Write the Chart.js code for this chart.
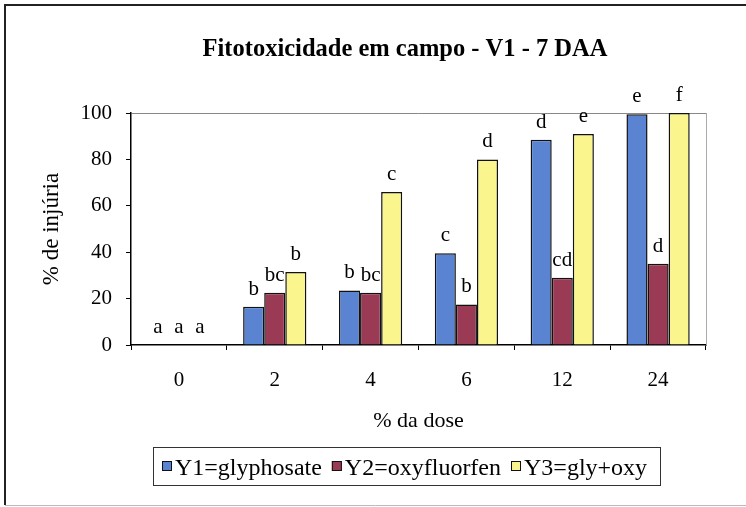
<!DOCTYPE html>
<html><head><meta charset="utf-8">
<script src="https://cdn.jsdelivr.net/npm/chart.js@4"></script>
<style>html,body{margin:0;padding:0;background:#fff}</style>
</head><body><canvas id="c" width="746" height="507"></canvas>
<script>
const categories = ['0','2','4','6','12','24'];
const glyphosate = [0,16.5,23.5,39.5,88.5,99.5];
const oxyfluorfen = [0,22.5,22.5,17.5,29,35];
const glyOxy = [0,31.5,66,80,91,100];
const lettersGly = ['a','b','b','c','d','e'];
const lettersOxy = ['a','bc','bc','b','cd','d'];
const lettersMix = ['a','b','c','d','e','f'];
const yTicks = [0,20,40,60,80,100];
const seriesNames = ['Y1=glyphosate','Y2=oxyfluorfen','Y3=gly+oxy'];
const seriesColors = ['#5a84d2','#9a3a55','#fbf58e'];
const chartTitle = 'Fitotoxicidade em campo - V1 - 7 DAA';

const serif = '"Liberation Serif", "Times New Roman", serif';
Chart.defaults.font.family = serif;

const decor = {
  id:'decor',
  afterDatasetsDraw(chart){
    const ctx = chart.ctx, a = chart.chartArea;
    ctx.save();
    ctx.font = '21px ' + serif;
    ctx.fillStyle = '#000';
    ctx.textAlign = 'center';
    ctx.textBaseline = 'alphabetic';
    chart.data.datasets.forEach((ds,i)=>{
      const meta = chart.getDatasetMeta(i);
      meta.data.forEach((bar,j)=>{
        ctx.fillText(ds.letters[j], bar.x, bar.y - 12);
      });
    });
    ctx.strokeStyle = '#aaa';
    ctx.lineWidth = 1;
    ctx.beginPath();
    ctx.moveTo(a.right+0.5, a.top);
    ctx.lineTo(a.right+0.5, a.bottom);
    ctx.stroke();
    ctx.restore();
  },
  afterDraw(chart){
    const ctx = chart.ctx;
    ctx.save();
    // outer frame (top and left dark, bottom light, no right edge)
    ctx.strokeStyle = '#222';
    ctx.lineWidth = 2;
    ctx.beginPath();
    ctx.moveTo(5, 505); ctx.lineTo(5, 5); ctx.lineTo(746, 5);
    ctx.stroke();
    ctx.strokeStyle = '#bbb';
    ctx.lineWidth = 1;
    ctx.beginPath();
    ctx.moveTo(5, 505.5); ctx.lineTo(746, 505.5);
    ctx.stroke();
    // title
    ctx.fillStyle = '#000';
    ctx.font = 'bold 24.5px ' + serif;
    ctx.textAlign = 'center';
    ctx.textBaseline = 'middle';
    ctx.fillText(chartTitle, 405, 50);
    // legend
    ctx.font = '24px ' + serif;
    ctx.textAlign = 'left';
    ctx.textBaseline = 'alphabetic';
    const box = 10, gap = 3, sep = 10;
    const ws = seriesNames.map(s=>ctx.measureText(s).width);
    const total = ws.reduce((s,w)=>s+box+gap+w,0) + sep*(ws.length-1);
    let x = 162;
    const left = 153, right = x + total + 13;
    ctx.lineWidth = 1;
    ctx.strokeStyle = '#333';
    ctx.strokeRect(left+0.5, 447.5, Math.round(right-left), 38);
    chart.data.datasets.forEach((ds,i)=>{
      ctx.fillStyle = ds.backgroundColor;
      ctx.fillRect(x, 461, box, box);
      ctx.strokeStyle = '#111';
      ctx.strokeRect(x+0.5, 461.5, box-1, box-1);
      ctx.fillStyle = '#000';
      ctx.fillText(ds.label, x + box + gap, 475);
      x += box + gap + ws[i] + sep;
    });
    ctx.restore();
  }
};

new Chart(document.getElementById('c'), {
  type:'bar',
  data:{
    labels: categories,
    datasets:[
      {label:seriesNames[0], data:glyphosate, letters:lettersGly, backgroundColor:seriesColors[0], borderColor:'#111', borderWidth:1.5},
      {label:seriesNames[1], data:oxyfluorfen, letters:lettersOxy, backgroundColor:seriesColors[1], borderColor:'#111', borderWidth:1.5},
      {label:seriesNames[2], data:glyOxy, letters:lettersMix, backgroundColor:seriesColors[2], borderColor:'#111', borderWidth:1.5}
    ]
  },
  options:{
    responsive:false,
    animation:false,
    devicePixelRatio:1,
    layout:{padding:{left:30,right:40,top:113,bottom:59}},
    datasets:{bar:{categoryPercentage:0.66, barPercentage:1.0}},
    scales:{
      x:{
        afterFit(s){ s.height = 103; },
        grid:{offset:true, drawOnChartArea:false, tickLength:5, color:'#000', lineWidth:1},
        border:{color:'#000', width:1.5},
        ticks:{font:{family:serif,size:21}, color:'#000', padding:18},
        title:{display:true, text:'% da dose', font:{family:serif,size:22}, color:'#000', padding:{top:0,bottom:14}}
      },
      y:{
        min:0, max:100,
        afterFit(s){ s.width = 101; },
        afterBuildTicks(scale){ scale.ticks = yTicks.map(v=>({value:v})); },
        grid:{color:(c)=> (c.tick && c.tick.value===100) ? '#888' : 'rgba(0,0,0,0)', tickColor:'#000', tickLength:5, lineWidth:1},
        border:{color:'#000', width:1.5},
        ticks:{font:{family:serif,size:21}, color:'#000', padding:14},
        title:{display:true, text:'% de injúria', font:{family:serif,size:23}, color:'#000', padding:{top:8,bottom:0}}
      }
    },
    plugins:{
      title:{display:false},
      legend:{display:false},
      tooltip:{enabled:false}
    }
  },
  plugins:[decor]
});
</script></body></html>
